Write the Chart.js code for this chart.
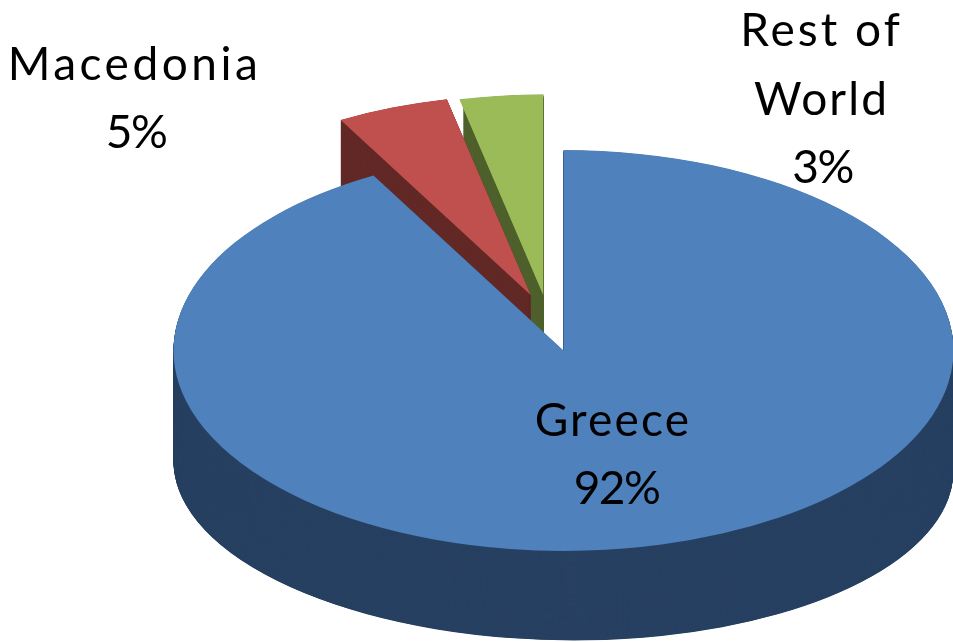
<!DOCTYPE html>
<html>
<head>
<meta charset="utf-8">
<script src="https://cdn.jsdelivr.net/npm/chart.js@4"></script>
<style>html,body{margin:0;padding:0;background:#fff}canvas{display:block}</style>
</head>
<body>
<canvas id="c" width="953" height="642"></canvas>
<script>
const categories = ["Greece", "Macedonia", "Rest of World"];
const shares = [91.9, 4.65, 3.45];
const topColors = ["#4f81bd", "#c0504d", "#9bbb59"];
const wallColors = ["#284162", "#612826", "#4f612d"];

// Projection of each slice: apex on screen, wall depth, bottom-rim squash and tilt.
const projection = [
  {x: 563.5, y: 350.5, k: 0.514, wallX: 563.5, wallY: 466, wallK: 0.447, tilt: 0.012, wallSx: 1},
  {x: 530.7, y: 295,   k: 0.514, wallX: 530.7, wallY: 365, wallK: 0.514, tilt: 0,     wallSx: 1},
  {x: 543.2, y: 295,   k: 0.514, wallX: 543.2, wallY: 365, wallK: 0.514, tilt: 0,     wallSx: 0.95}
];
const drawOrder = [2, 1, 0];

const textBlocks = [
  {index: 0, lines: [["Greece", 613, 436, 2.2], ["%", 616.5, 504, -1.5]]},
  {index: 1, lines: [["Macedonia", 134.5, 80, 3.5], ["%", 136, 148, -1.5]]},
  {index: 2, lines: [["Rest of", 821.5, 46, 3.0], ["World", 821.5, 115, 2.1], ["%", 822.5, 183, -1.5]]}
];

const pie3d = {
  id: "pie3d",
  beforeDatasetsDraw(chart) {
    const ctx = chart.ctx;
    const arcs = chart.getDatasetMeta(0).data;
    const place = (arc, sx, X, Y, k, tilt) => ctx.setTransform(
      sx, tilt, 0, k, X - sx * arc.x, Y - k * arc.y - tilt * arc.x);
    drawOrder.forEach(i => {
      const arc = arcs[i], p = projection[i], base = arc.options;
      ctx.save();
      arc.options = Object.assign({}, base, {backgroundColor: wallColors[i]});
      const steps = 260;
      for (let s = steps; s >= 1; s--) {
        const t = s / steps;
        place(arc, p.wallSx,
          p.x + (p.wallX - p.x) * t,
          p.y + (p.wallY - p.y) * t,
          p.k + (p.wallK - p.k) * t,
          p.tilt * t);
        arc.draw(ctx);
      }
      arc.options = base;
      place(arc, 1, p.x, p.y, p.k, 0);
      arc.draw(ctx);
      ctx.restore();
    });
    return false;
  },
  afterDraw(chart) {
    const ctx = chart.ctx;
    ctx.save();
    ctx.setTransform(1, 0, 0, 1, 0, 0);
    ctx.fillStyle = "#000";
    ctx.font = "46px Lato";
    ctx.textAlign = "center";
    ctx.textBaseline = "alphabetic";
    textBlocks.forEach(b => {
      b.lines.forEach(([txt, x, y, sp]) => {
        const s = txt === "%" ? Math.round(shares[b.index]) + "%" : txt;
        ctx.letterSpacing = sp + "px";
        ctx.fillText(s, x, y);
      });
    });
    ctx.restore();
  }
};

new Chart(document.getElementById("c"), {
  type: "pie",
  data: {
    labels: categories,
    datasets: [{data: shares, backgroundColor: topColors, borderWidth: 0}]
  },
  options: {
    responsive: false,
    animation: false,
    radius: 390,
    layout: {padding: 0},
    plugins: {legend: {display: false}, tooltip: {enabled: false}, title: {display: false}}
  },
  plugins: [pie3d]
});
</script>
</body>
</html>
